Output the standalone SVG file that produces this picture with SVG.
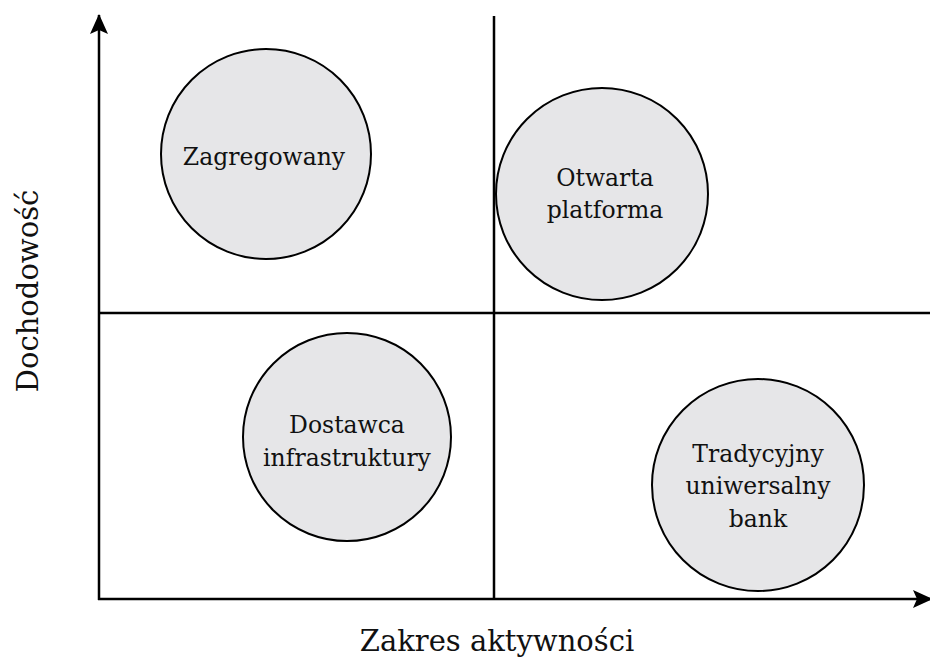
<svg xmlns="http://www.w3.org/2000/svg" width="930" height="657" viewBox="0 0 930 657">
<style>
.ax{stroke:#000;stroke-width:2.5;fill:none}
.c{fill:#e6e6e8;stroke:#000;stroke-width:2}
.t{font-family:"DejaVu Serif","Liberation Serif",serif;font-size:23.5px;fill:#111;text-anchor:middle}
.lab{font-family:"DejaVu Serif","Liberation Serif",serif;font-size:29px;fill:#111;text-anchor:middle}
</style>
<defs>
<marker id="ah" viewBox="0 0 20 20" refX="19" refY="10" markerWidth="20" markerHeight="20" markerUnits="userSpaceOnUse" orient="auto">
<path d="M0,1 L20,10 L0,19 L4,10 Z" fill="#000"/>
</marker>
</defs>
<g id="connectors">
<line class="ax" x1="99" y1="600" x2="99" y2="15" marker-end="url(#ah)"/>
<line class="ax" x1="98" y1="599" x2="932" y2="599" marker-end="url(#ah)"/>
<line class="ax" x1="494" y1="16" x2="494" y2="599"/>
<line class="ax" x1="99" y1="313" x2="930" y2="313"/>
</g>
<g id="n-zagregowany">
<circle class="c" cx="266" cy="154" r="105"/>
<text class="t" x="264" y="165">Zagregowany</text>
</g>
<g id="n-otwarta">
<circle class="c" cx="602" cy="194" r="106"/>
<text class="t" x="605" y="186">Otwarta</text>
<text class="t" x="605" y="218">platforma</text>
</g>
<g id="n-dostawca">
<circle class="c" cx="347" cy="437" r="104"/>
<text class="t" x="347" y="433">Dostawca</text>
<text class="t" x="347" y="466">infrastruktury</text>
</g>
<g id="n-tradycyjny">
<circle class="c" cx="758" cy="485" r="106"/>
<text class="t" x="758" y="462">Tradycyjny</text>
<text class="t" x="758" y="494">uniwersalny</text>
<text class="t" x="758" y="527">bank</text>
</g>
<g id="labels">
<text class="lab" x="497" y="651">Zakres aktywności</text>
<text class="lab" transform="translate(38,291) rotate(-90)">Dochodowość</text>
</g>
</svg>
